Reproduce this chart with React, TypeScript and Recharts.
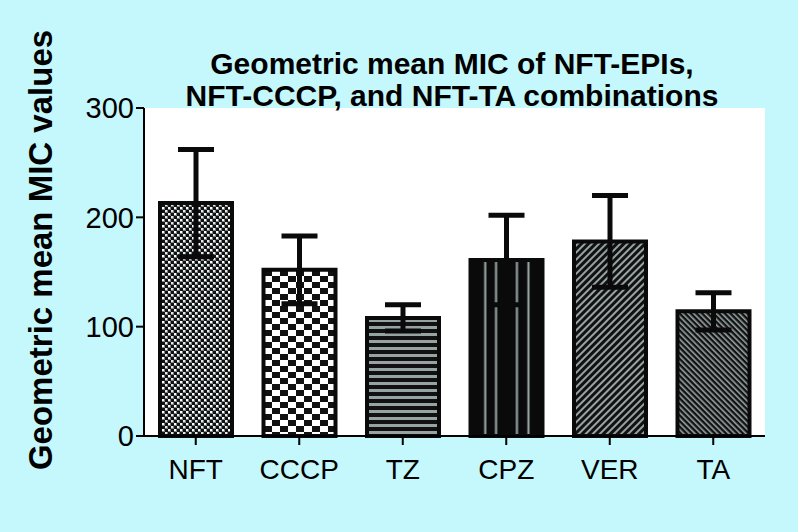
import { BarChart, Bar, XAxis, YAxis, CartesianGrid, ErrorBar, Cell } from "recharts";

const categories = ["NFT", "CCCP", "TZ", "CPZ", "VER", "TA"];
const meanMic = [213, 152, 108, 161, 178, 114];
const semMic = [49, 31, 12, 41, 42, 17];
const yTicks = [0, 100, 200, 300];

const data = categories.map((name, i) => ({ name, mic: meanMic[i], err: semMic[i] }));

const font = "'Liberation Sans', Arial, sans-serif";
const grey = "#97a3a3";

function Patterns() {
  return (
    <defs>
      {/* NFT: fine grey checker */}
      <pattern id="p0" width="6" height="6" patternUnits="userSpaceOnUse">
        <rect width="6" height="6" fill="#7a8686" />
        <rect x="0" y="0" width="3" height="3" fill="#111" />
        <rect x="3" y="3" width="3" height="3" fill="#111" />
        <rect x="0" y="3" width="2" height="2" fill="#fff" />
        <rect x="3" y="0" width="2" height="2" fill="#e8e8e8" />
      </pattern>
      {/* CCCP: coarse checkerboard */}
      <pattern id="p1" width="16" height="12" patternUnits="userSpaceOnUse">
        <rect width="16" height="12" fill="#fff" />
        <rect x="0" y="0" width="8" height="6" fill="#111" />
        <rect x="8" y="6" width="8" height="6" fill="#111" />
      </pattern>
      {/* TZ: horizontal stripes */}
      <pattern id="p2" width="8" height="7" patternUnits="userSpaceOnUse">
        <rect width="8" height="7" fill="#111" />
        <rect x="0" y="4" width="8" height="3" fill={grey} />
      </pattern>
      {/* CPZ: black with four vertical lines */}
      <pattern id="p3" width="1" height="1" patternUnits="objectBoundingBox" patternContentUnits="objectBoundingBox">
        <rect width="1" height="1" fill="#0a0a0a" />
        <rect x="0.19" y="0" width="0.03" height="1" fill={grey} />
        <rect x="0.34" y="0" width="0.03" height="1" fill={grey} />
        <rect x="0.63" y="0" width="0.03" height="1" fill={grey} />
        <rect x="0.79" y="0" width="0.03" height="1" fill={grey} />
      </pattern>
      {/* VER: diagonal hatch */}
      <pattern id="p4" width="5" height="5" patternUnits="userSpaceOnUse" patternTransform="rotate(45)">
        <rect width="5" height="5" fill="#111" />
        <rect x="0" y="0" width="2" height="5" fill={grey} />
      </pattern>
      {/* TA: opposite diagonal hatch */}
      <pattern id="p5" width="4" height="4" patternUnits="userSpaceOnUse" patternTransform="rotate(-45)">
        <rect width="4" height="4" fill="#111" />
        <rect x="0" y="0" width="1.6" height="4" fill={grey} />
      </pattern>
    </defs>
  );
}

export default function App() {
  return (
    <div style={{ position: "absolute", left: 0, top: 0, width: 798, height: 532, background: "#c5f8fc", overflow: "hidden" }}>
      <svg width={798} height={532} style={{ position: "absolute", left: 0, top: 0 }}>
        <Patterns />
      </svg>
      <BarChart
        width={798}
        height={532}
        data={data}
        margin={{ top: 108, right: 33, bottom: 0, left: 0 }}
        barCategoryGap={16}
        style={{ position: "absolute", left: 0, top: 0 }}
      >
        <CartesianGrid fill="#fff" stroke="none" horizontal={false} vertical={false} />
        <XAxis
          dataKey="name"
          height={96}
          tick={{ fill: "#000", fontSize: 28, fontFamily: font }}
          tickSize={9}
          tickMargin={14}
          axisLine={{ stroke: "#000", strokeWidth: 2 }}
          tickLine={{ stroke: "#000", strokeWidth: 2 }}
        />
        <YAxis
          width={144}
          domain={[0, 300]}
          ticks={yTicks}
          interval={0}
          tick={{ fill: "#000", fontSize: 29, fontFamily: font }}
          tickSize={8}
          tickMargin={2}
          axisLine={{ stroke: "#000", strokeWidth: 2 }}
          tickLine={{ stroke: "#000", strokeWidth: 2 }}
        />
        <Bar dataKey="mic" stroke="#0a0a0a" strokeWidth={4} isAnimationActive={false}>
          {data.map((d, i) => (
            <Cell key={d.name} fill={`url(#p${i})`} />
          ))}
          <ErrorBar dataKey="err" width={18} stroke="#0a0a0a" strokeWidth={5} />
        </Bar>
      </BarChart>
      <svg width={798} height={532} style={{ position: "absolute", left: 0, top: 0, pointerEvents: "none" }}>
        <text x={452} y={74} textAnchor="middle" fontFamily={font} fontWeight="bold" fontSize={30} fill="#000">
          Geometric mean MIC of NFT-EPIs,
        </text>
        <text x={452} y={106} textAnchor="middle" fontFamily={font} fontWeight="bold" fontSize={30} fill="#000">
          NFT-CCCP, and NFT-TA combinations
        </text>
        <text
          x={0}
          y={0}
          transform="translate(52,250) rotate(-90)"
          textAnchor="middle"
          fontFamily={font}
          fontWeight="bold"
          fontSize={33}
          fill="#000"
        >
          Geometric mean MIC values
        </text>
      </svg>
    </div>
  );
}
